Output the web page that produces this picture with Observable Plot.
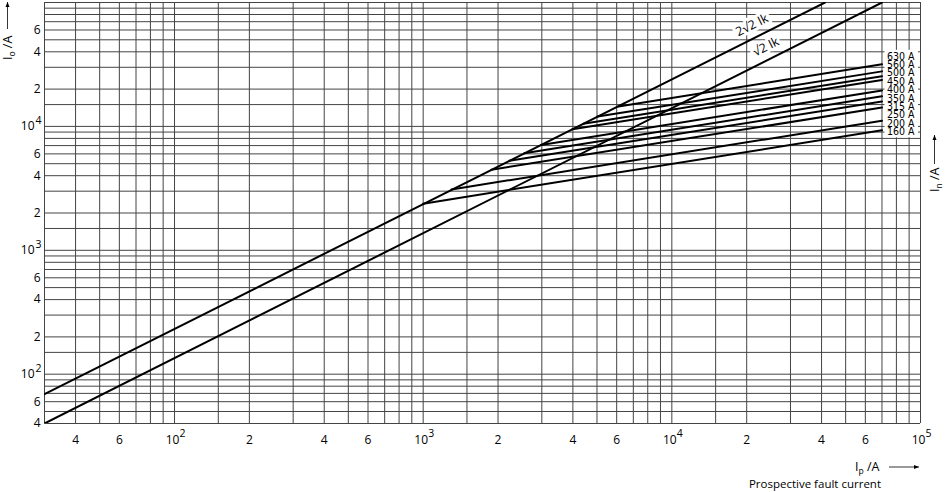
<!DOCTYPE html>
<html><head><meta charset="utf-8">
<script src="https://cdn.jsdelivr.net/npm/d3@7"></script>
<script src="https://cdn.jsdelivr.net/npm/@observablehq/plot@0.6"></script>
<style>body{margin:0;background:#fff} svg{display:block}</style>
</head><body><div id="chart"></div>
<script>
// ---------- data ----------
const fuseRatings = [160, 200, 250, 315, 350, 400, 450, 500, 560, 630];
const fuseStartIp = [1000, 1300, 1880, 2220, 2550, 2980, 3980, 4410, 5030, 6100];
const fuseStartIc = [2380, 3100, 4470, 5280, 6070, 7090, 9470, 10500, 12000, 14500];
const fuseEndIp   = [70000, 70000, 70000, 70000, 70000, 70000, 70000, 70000, 70000, 70000];
const fuseEndIc   = [9300, 11100, 14200, 15900, 17500, 19500, 23700, 25400, 27800, 31700];

const peakNames   = ["2√2 Ik", "√2 Ik"];
const peakStartIp = [30, 30];
const peakStartIc = [69, 40];
const peakEndIp   = [41300, 70000];
const peakEndIc   = [100000, 100000];
const peakLabelIp = [21000, 23900];

const gridMultipliers = [1, 1.5, 2, 3, 4, 5, 6, 7, 8, 9];
const gridDecades = [10, 100, 1000, 10000, 100000];

const xTickValues    = [40, 60, 100, 200, 400, 600, 1000, 2000, 4000, 6000, 10000, 20000, 40000, 60000, 100000];
const xTickLabels    = ["4","6","10","2","4","6","10","2","4","6","10","2","4","6","10"];
const xTickExponents = ["","","2","","","","3","","","","4","","","","5"];
const yTickValues    = [40, 60, 100, 200, 400, 600, 1000, 2000, 4000, 6000, 10000, 20000, 40000, 60000];
const yTickLabels    = ["4","6","10","2","4","6","10","2","4","6","10","2","4","6"];
const yTickExponents = ["","","2","","","","3","","","","4","","",""];

const xDomain = [30, 100000];
const yDomain = [40, 100000];

// ---------- derived tables ----------
const FONT = "'Open Sans', 'Noto Sans', sans-serif";
const NARROW = "'Liberation Sans Narrow', 'DejaVu Sans Condensed', 'Open Sans', sans-serif";
const W = 945, H = 492, ML = 44, MR = 25, MT = 2, MB = 69;

const inRange = (v, d) => v >= d[0] - 1e-9 && v <= d[1] + 1e-9;
const xGrid = gridDecades.flatMap(d => gridMultipliers.map(m => m * d)).filter(v => inRange(v, xDomain));
const yGrid = gridDecades.flatMap(d => gridMultipliers.map(m => m * d)).filter(v => inRange(v, yDomain));

const peakRows = peakNames.flatMap((n, i) => [
  {name: n, ip: peakStartIp[i], ic: peakStartIc[i]},
  {name: n, ip: peakEndIp[i], ic: peakEndIc[i]}
]);
const logInterp = (x0, y0, x1, y1, x) =>
  Math.pow(10, Math.log10(y0) + (Math.log10(y1) - Math.log10(y0)) * (Math.log10(x) - Math.log10(x0)) / (Math.log10(x1) - Math.log10(x0)));
const peakLabelRows = peakNames.map((n, i) => ({
  name: n, ip: peakLabelIp[i],
  ic: logInterp(peakStartIp[i], peakStartIc[i], peakEndIp[i], peakEndIc[i], peakLabelIp[i])
}));

const fuseRows = fuseRatings.flatMap((r, i) => [
  {rating: r, ip: fuseStartIp[i], ic: fuseStartIc[i]},
  {rating: r, ip: fuseEndIp[i], ic: fuseEndIc[i]}
]);

const pxPerDecX = (W - ML - MR) / Math.log10(xDomain[1] / xDomain[0]);
const pxPerDecY = (H - MT - MB) / Math.log10(yDomain[1] / yDomain[0]);
const slopeAngle = -Math.atan(pxPerDecY / pxPerDecX) * 180 / Math.PI;
const shiftY = (v, px) => v * Math.pow(10, px / pxPerDecY);   // move up by px
const shiftX = (v, px) => v * Math.pow(10, px / pxPerDecX);   // move right by px

// labels spread evenly (log space) from just below the lowest curve end to above the highest
const lo = Math.log10(shiftY(d3.min(fuseEndIc), -1.5)), hi = Math.log10(shiftY(d3.max(fuseEndIc), 8));
const fuseLabelRows = fuseRatings.map((r, i) => ({
  text: r + " A", ip: fuseEndIp[i], ic: Math.pow(10, lo + (hi - lo) * i / (fuseRatings.length - 1))
}));
const labelBox = [{
  x1: shiftX(d3.max(fuseEndIp), 3), x2: shiftX(xDomain[1], -2),
  y1: shiftY(Math.pow(10, lo), -6), y2: shiftY(Math.pow(10, hi), 6)
}];

const xTickRows = xTickValues.map((v, i) => ({v, label: xTickLabels[i], exp: xTickExponents[i]}));
const yTickRows = yTickValues.map((v, i) => ({v, label: yTickLabels[i], exp: yTickExponents[i]}));

const plot = Plot.plot({
  width: W, height: H,
  marginLeft: ML, marginRight: MR, marginTop: MT, marginBottom: MB,
  x: {type: "log", domain: xDomain, axis: null},
  y: {type: "log", domain: yDomain, axis: null},
  style: {fontFamily: FONT, fontSize: "12px", background: "white", color: "black", overflow: "visible"},
  marks: [
    Plot.ruleX(xGrid, {x: d => d, stroke: "#444", strokeWidth: 1}),
    Plot.ruleY(yGrid, {y: d => d, stroke: "#444", strokeWidth: 1}),
    Plot.rect(labelBox, {x1: "x1", x2: "x2", y1: "y1", y2: "y2", fill: "white"}),
    Plot.line(peakRows, {x: "ip", y: "ic", z: "name", stroke: "black", strokeWidth: 2, clip: true}),
    Plot.line(fuseRows, {x: "ip", y: "ic", z: "rating", stroke: "black", strokeWidth: 2, clip: true}),
    Plot.text(peakLabelRows, {x: "ip", y: "ic", text: "name", rotate: slopeAngle, dy: -14,
      fill: "black", stroke: "white", strokeWidth: 6, fontSize: 12.5}),
    Plot.text(fuseLabelRows, {x: "ip", y: "ic", text: "text", textAnchor: "start", dx: 5,
      fill: "black", fontSize: 10.5, fontFamily: NARROW}),
    // x tick labels
    Plot.text(xTickRows.filter(d => !d.exp), {x: "v", text: "label", frameAnchor: "bottom", lineAnchor: "top", dy: 12, fontSize: 12}),
    Plot.text(xTickRows.filter(d => d.exp), {x: "v", text: "label", frameAnchor: "bottom", lineAnchor: "top", dy: 12, dx: -2, fontSize: 12}),
    Plot.text(xTickRows.filter(d => d.exp), {x: "v", text: "exp", frameAnchor: "bottom", lineAnchor: "top", dy: 6, dx: 5, textAnchor: "start", fontSize: 10.5}),
    // y tick labels
    Plot.text(yTickRows.filter(d => !d.exp), {y: "v", text: "label", frameAnchor: "left", textAnchor: "end", dx: -4, fontSize: 12}),
    Plot.text(yTickRows.filter(d => d.exp), {y: "v", text: "label", frameAnchor: "left", textAnchor: "end", dx: -10, fontSize: 12}),
    Plot.text(yTickRows.filter(d => d.exp), {y: "v", text: "exp", frameAnchor: "left", textAnchor: "start", dx: -9, dy: -6, fontSize: 10.5})
  ]
});

// ---------- axis titles (layout decorations) ----------
const svg = d3.select(plot);
const g = svg.append("g").attr("font-family", FONT).attr("font-size", 12.5)
  .attr("fill", "black").attr("text-anchor", "start");

function title(parent, transform, main, sub, rest) {
  const t = parent.append("text").attr("transform", transform);
  t.append("tspan").text(main);
  t.append("tspan").attr("font-size", 8.5).attr("dy", 3).text(sub);
  t.append("tspan").attr("dy", -3).text(rest);
  return t;
}
function arrow(parent, x1, y1, x2, y2) {
  parent.append("line").attr("x1", x1).attr("y1", y1).attr("x2", x2).attr("y2", y2)
    .attr("stroke", "black").attr("stroke-width", 0.8);
  const ang = Math.atan2(y2 - y1, x2 - x1);
  const L = 5, Wd = 2;
  const bx = x2 - L * Math.cos(ang), by = y2 - L * Math.sin(ang);
  const px = -Math.sin(ang) * Wd, py = Math.cos(ang) * Wd;
  parent.append("polygon").attr("points", `${x2},${y2} ${bx + px},${by + py} ${bx - px},${by - py}`).attr("fill", "black");
}

// bottom: I_p /A ->  and Prospective fault current
title(g, "translate(855,471)", "I", "p", " /A");
arrow(g, 889, 467, 919, 467);
g.append("text").attr("x", 881).attr("y", 487.5).attr("text-anchor", "end").attr("font-size", 11.5).text("Prospective fault current");

// top-left: I_o /A (rotated)
title(g, "translate(12,60) rotate(-90)", "I", "o", " /A");
arrow(g, 7.5, 29, 7.5, 2);

// right: I_n /A (rotated)
title(g, "translate(939,192) rotate(-90)", "I", "n", " /A");
arrow(g, 934.5, 164, 934.5, 135);

document.getElementById("chart").appendChild(plot);
</script>
</body></html>
